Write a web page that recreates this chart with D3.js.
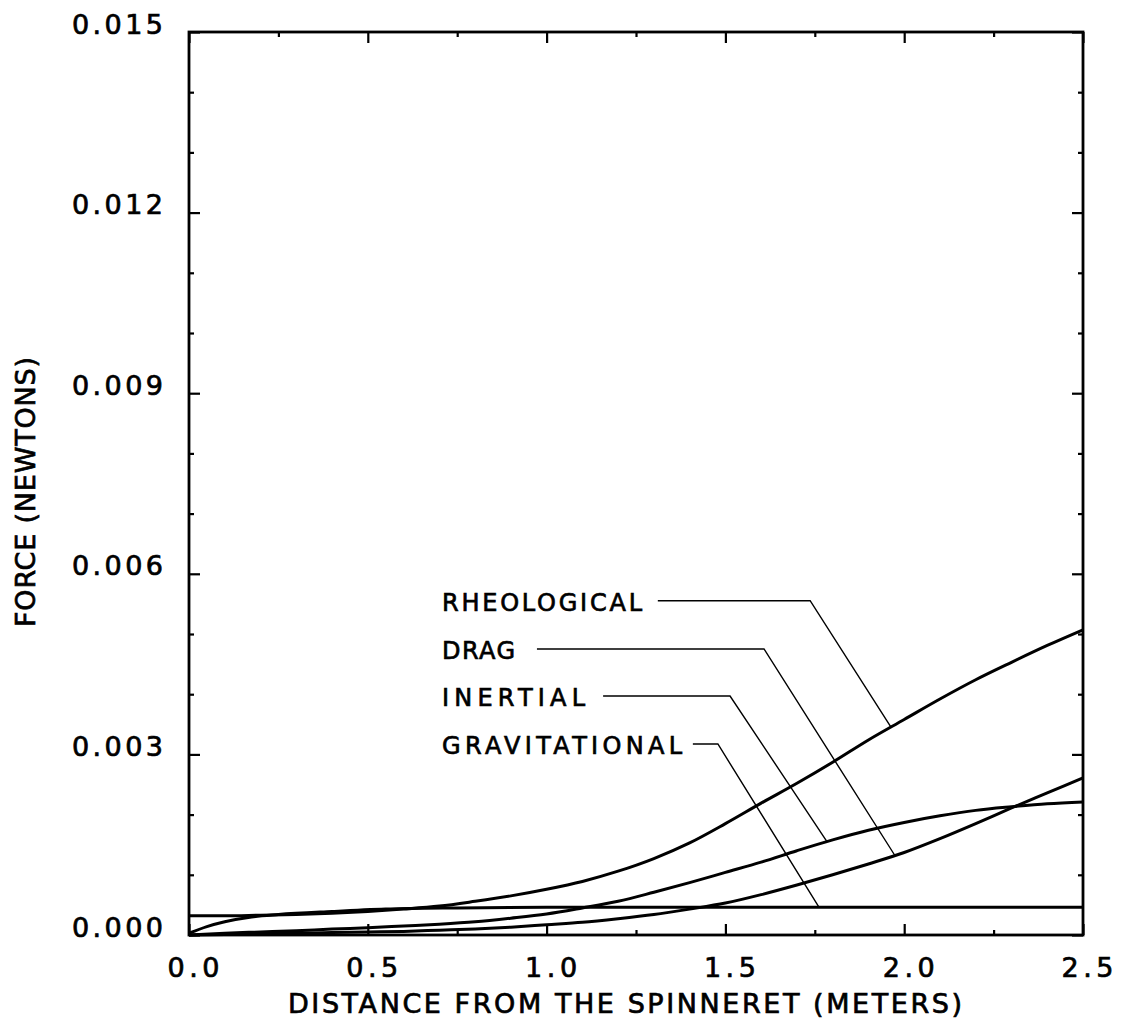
<!DOCTYPE html>
<html>
<head>
<meta charset="utf-8">
<script src="https://cdn.jsdelivr.net/npm/d3@7"></script>
<style>
  html, body { margin: 0; padding: 0; background: #fff; }
  svg { display: block; }
  text { font-family: "DejaVu Sans", "Liberation Sans", sans-serif; fill: #000; stroke: #000; stroke-width: 0.7px; }
</style>
</head>
<body>
<svg id="chart" width="1121" height="1020"></svg>
<script>
// Force components along the spinline (newtons) vs distance from the spinneret (m)
const distance = [0, 0.1, 0.2, 0.3, 0.4, 0.5, 0.6, 0.7, 0.8, 0.9, 1.0, 1.1, 1.2,
                  1.3, 1.4, 1.5, 1.6, 1.7, 1.8, 1.9, 2.0, 2.1, 2.2, 2.3, 2.4, 2.5];

const rheological = [0.00032, 0.00032, 0.00033, 0.00034, 0.00036, 0.00039, 0.00043,
                     0.00048, 0.00056, 0.00065, 0.00076, 0.00089, 0.00106, 0.00127,
                     0.00153, 0.00185, 0.00219, 0.00252, 0.00287, 0.00324, 0.00358,
                     0.00392, 0.00424, 0.00453, 0.00481, 0.00507];

const inertial = [0, 0.00003, 0.00005, 0.00007, 0.0001, 0.00012, 0.00015, 0.00018,
                  0.00022, 0.00028, 0.00035, 0.00045, 0.00056, 0.00071, 0.00087,
                  0.00104, 0.00121, 0.0014, 0.00158, 0.00174, 0.00187, 0.00198,
                  0.00207, 0.00213, 0.00218, 0.00221];

const drag = [0, 0.00001, 0.00002, 0.00003, 0.00004, 0.00005, 0.00006, 0.00008,
              0.0001, 0.00013, 0.00017, 0.00021, 0.00027, 0.00034, 0.00043, 0.00053,
              0.00067, 0.00083, 0.001, 0.00118, 0.00137, 0.0016, 0.00185, 0.00211,
              0.00236, 0.00261];

// gravity term saturates close to the spinneret, so it is sampled more finely there
const gravDistance = [0, 0.05, 0.1, 0.175, 0.25, 0.4, 0.55, 0.75, 1.0, 1.5, 2.0, 2.5];
const gravitational = [0.00003, 0.00014, 0.00022, 0.0003, 0.00034, 0.00039, 0.00043,
                       0.00045, 0.00046, 0.00046, 0.00046, 0.00046];

const xMajorTicks = [0, 0.5, 1.0, 1.5, 2.0, 2.5];
const xMinorTicks = [0.25, 0.75, 1.25, 1.75, 2.25];
const xTickLabels = ["0.0", "0.5", "1.0", "1.5", "2.0", "2.5"];
const yMajorTicks = [0, 0.003, 0.006, 0.009, 0.012, 0.015];
const yMinorTicks = [0.001, 0.002, 0.004, 0.005, 0.007, 0.008, 0.010, 0.011, 0.013, 0.014];
const yTickLabels = ["0.000", "0.003", "0.006", "0.009", "0.012", "0.015"];

const xTitle = "DISTANCE FROM THE SPINNERET (METERS)";
const yTitle = "FORCE (NEWTONS)";

// ---- layout ----
const svg = d3.select("#chart");
const frame = { left: 189, right: 1083, top: 32, bottom: 935 };

const x = d3.scaleLinear().domain([0, 2.5]).range([frame.left, frame.right]);
const y = d3.scaleLinear().domain([0, 0.015]).range([frame.bottom, frame.top]);

svg.append("rect").attr("width", 1121).attr("height", 1020).attr("fill", "#fff");

const MAJOR = 11, MINOR = 5;

function tickAxis(axisFn, scale, values, size, transform) {
  const g = svg.append("g").attr("transform", transform)
    .call(axisFn(scale).tickValues(values).tickSize(-size).tickFormat(""));
  g.select(".domain").remove();
  g.selectAll(".tick line").attr("stroke", "#000").attr("stroke-width", 2.2);
  return g;
}

// inward-pointing ticks on all four sides
tickAxis(d3.axisBottom, x, xMajorTicks, MAJOR, `translate(0,${frame.bottom})`);
tickAxis(d3.axisBottom, x, xMinorTicks, MINOR, `translate(0,${frame.bottom})`);
tickAxis(d3.axisTop, x, xMajorTicks, MAJOR, `translate(0,${frame.top})`);
tickAxis(d3.axisTop, x, xMinorTicks, MINOR, `translate(0,${frame.top})`);
tickAxis(d3.axisLeft, y, yMajorTicks, MAJOR, `translate(${frame.left},0)`);
tickAxis(d3.axisLeft, y, yMinorTicks, MINOR, `translate(${frame.left},0)`);
tickAxis(d3.axisRight, y, yMajorTicks, MAJOR, `translate(${frame.right},0)`);
tickAxis(d3.axisRight, y, yMinorTicks, MINOR, `translate(${frame.right},0)`);

// tick labels
const xLab = svg.append("g").attr("transform", `translate(0,${frame.bottom})`)
  .call(d3.axisBottom(x).tickValues(xMajorTicks).tickSize(0)
        .tickFormat((d, i) => xTickLabels[i]));
xLab.select(".domain").remove();
xLab.selectAll("text")
  .attr("y", 42).attr("dy", 0).attr("dx", 4)
  .attr("font-size", 27).attr("font-family", null)
  .attr("textLength", 52).attr("lengthAdjust", "spacing");

const yLab = svg.append("g").attr("transform", `translate(${frame.left},0)`)
  .call(d3.axisLeft(y).tickValues(yMajorTicks).tickSize(0)
        .tickFormat((d, i) => yTickLabels[i]));
yLab.select(".domain").remove();
yLab.selectAll("text")
  .attr("x", -26).attr("dy", 1)
  .attr("font-size", 27).attr("font-family", null)
  .attr("textLength", 91).attr("lengthAdjust", "spacing");

// frame
svg.append("rect")
  .attr("x", frame.left).attr("y", frame.top)
  .attr("width", frame.right - frame.left).attr("height", frame.bottom - frame.top)
  .attr("fill", "none").attr("stroke", "#000").attr("stroke-width", 2.8);

// axis titles
svg.append("text")
  .attr("x", 625).attr("y", 1013)
  .attr("text-anchor", "middle").attr("font-size", 27)
  .attr("textLength", 674).attr("lengthAdjust", "spacing")
  .text(xTitle);

svg.append("text")
  .attr("transform", "translate(35,492) rotate(-90)")
  .attr("text-anchor", "middle").attr("font-size", 27)
  .attr("textLength", 270).attr("lengthAdjust", "spacing")
  .text(yTitle);

// curves
const series = [
  { name: "RHEOLOGICAL", xs: distance, ys: rheological },
  { name: "DRAG", xs: distance, ys: drag },
  { name: "INERTIAL", xs: distance, ys: inertial },
  { name: "GRAVITATIONAL", xs: gravDistance, ys: gravitational }
];

const line = d3.line().curve(d3.curveMonotoneX).x(d => x(d[0])).y(d => y(d[1]));

const plot = svg.append("g");
series.forEach(s => {
  plot.append("path")
    .datum(s.xs.map((v, i) => [v, s.ys[i]]))
    .attr("d", line)
    .attr("fill", "none").attr("stroke", "#000")
    .attr("stroke-width", 3).attr("stroke-linejoin", "round");
});

// labels with leader lines: row height (force), start and elbow (distance), and target on the curve
const labelStart = 0.7075;
const leaders = [
  { name: "RHEOLOGICAL",   row: 0.005553, from: 1.311, elbow: 1.737, at: 1.963, len: 200 },
  { name: "DRAG",          row: 0.004751, from: 0.973, elbow: 1.608, at: 1.974, len: 73 },
  { name: "INERTIAL",      row: 0.003970, from: 1.158, elbow: 1.513, at: 1.784, len: 143 },
  { name: "GRAVITATIONAL", row: 0.003173, from: 1.409, elbow: 1.479, at: 1.762, len: 240 }
];

function valueAt(xs, ys, v) {
  const i = Math.max(1, Math.min(xs.length - 1, d3.bisectLeft(xs, v)));
  const t = (v - xs[i - 1]) / (xs[i] - xs[i - 1]);
  return ys[i - 1] + t * (ys[i] - ys[i - 1]);
}

leaders.forEach(a => {
  const s = series.find(d => d.name === a.name);
  const target = valueAt(s.xs, s.ys, a.at);
  svg.append("text")
    .attr("x", x(labelStart)).attr("y", y(a.row) + 10)
    .attr("font-size", 24)
    .attr("textLength", a.len).attr("lengthAdjust", "spacing")
    .text(a.name);
  svg.append("path")
    .attr("d", d3.line()([[x(a.from), y(a.row)], [x(a.elbow), y(a.row)], [x(a.at), y(target)]]))
    .attr("fill", "none").attr("stroke", "#000").attr("stroke-width", 1.4);
});
</script>
</body>
</html>
